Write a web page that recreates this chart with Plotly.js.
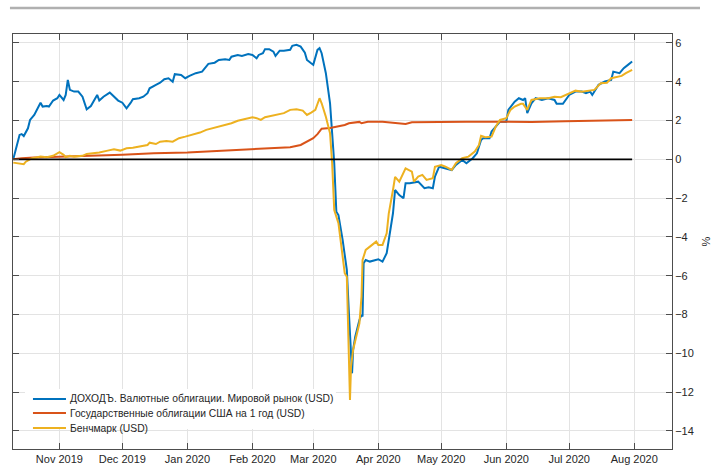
<!DOCTYPE html>
<html>
<head>
<meta charset="utf-8">
<script src="https://cdn.plot.ly/plotly-3.0.1.min.js"></script>
<style>html,body{margin:0;padding:0;background:#fff;}#chart{width:712px;height:467px;}</style>
</head>
<body>
<div id="chart"></div>
<script>
const seriesNames = [
  "ДОХОДЪ. Валютные облигации. Мировой рынок (USD)",
  "Государственные облигации США на 1 год (USD)",
  "Бенчмарк (USD)"
];

const fundDates = ["2019-10-10","2019-10-13","2019-10-14","2019-10-15","2019-10-17","2019-10-18","2019-10-20","2019-10-22","2019-10-23","2019-10-24","2019-10-26","2019-10-27","2019-10-29","2019-10-31","2019-11-01","2019-11-03","2019-11-04","2019-11-05","2019-11-06","2019-11-08","2019-11-10","2019-11-12","2019-11-14","2019-11-16","2019-11-18","2019-11-19","2019-11-20","2019-11-22","2019-11-25","2019-11-27","2019-11-29","2019-12-01","2019-12-03","2019-12-05","2019-12-06","2019-12-09","2019-12-11","2019-12-13","2019-12-14","2019-12-17","2019-12-19","2019-12-21","2019-12-23","2019-12-25","2019-12-26","2019-12-29","2019-12-31","2020-01-02","2020-01-05","2020-01-08","2020-01-10","2020-01-11","2020-01-14","2020-01-16","2020-01-19","2020-01-21","2020-01-22","2020-01-25","2020-01-27","2020-01-30","2020-02-01","2020-02-03","2020-02-04","2020-02-06","2020-02-07","2020-02-09","2020-02-11","2020-02-12","2020-02-14","2020-02-16","2020-02-19","2020-02-20","2020-02-22","2020-02-24","2020-02-26","2020-02-27","2020-02-29","2020-03-01","2020-03-03","2020-03-04","2020-03-05","2020-03-07","2020-03-09","2020-03-10","2020-03-11","2020-03-12","2020-03-13","2020-03-15","2020-03-17","2020-03-18","2020-03-19","2020-03-19 12:00","2020-03-20","2020-03-21","2020-03-23","2020-03-24","2020-03-24 12:00","2020-03-25","2020-03-26","2020-03-28","2020-04-01","2020-04-03","2020-04-05","2020-04-06","2020-04-08","2020-04-09","2020-04-11","2020-04-13","2020-04-14","2020-04-16","2020-04-18","2020-04-20","2020-04-23","2020-04-25","2020-04-27","2020-04-28","2020-04-30","2020-05-03","2020-05-06","2020-05-08","2020-05-11","2020-05-13","2020-05-16","2020-05-18","2020-05-20","2020-05-21","2020-05-24","2020-05-25","2020-05-28","2020-05-29","2020-06-01","2020-06-02","2020-06-05","2020-06-07","2020-06-09","2020-06-10","2020-06-11","2020-06-13","2020-06-15","2020-06-18","2020-06-21","2020-06-24","2020-06-25","2020-06-28","2020-07-01","2020-07-04","2020-07-07","2020-07-09","2020-07-11","2020-07-12","2020-07-15","2020-07-18","2020-07-21","2020-07-22","2020-07-25","2020-07-27","2020-07-29","2020-07-31"];
const fundValues = [0,1.26,1.30,1.20,1.60,2.03,2.29,2.72,2.92,2.72,2.75,2.72,3.03,3.15,3.32,3.06,3.32,4.09,3.58,3.49,3.49,3.23,2.58,2.75,3.15,3.32,3.03,3.23,3.44,3.23,3.03,2.92,2.63,2.92,3.10,3.15,3.23,3.41,3.66,3.84,3.95,4.13,4.18,4.00,4.39,4.35,4.18,4.30,4.44,4.52,4.78,4.92,4.98,5.12,5.16,5.12,5.29,5.38,5.33,5.43,5.38,5.21,5.38,5.47,5.68,5.68,5.55,5.33,5.60,5.60,5.65,5.85,5.90,5.81,5.50,5.12,4.95,4.87,5.64,5.73,5.47,4.44,2.89,1.52,-0.20,-2.70,-2.87,-4.15,-5.70,-7.93,-10.0,-11.03,-9.82,-9.14,-8.28,-8.02,-8.10,-5.36,-5.19,-5.27,-5.15,-5.27,-4.84,-4.15,-2.78,-1.58,-1.84,-2.01,-1.23,-1.23,-1.20,-1.15,-1.49,-1.44,-1.49,-0.89,-0.38,-0.46,-0.55,-0.29,-0.03,-0.20,0.06,0.31,1.00,1.09,1.09,1.43,1.86,1.94,1.94,2.55,2.97,3.15,3.06,3.15,2.38,2.89,3.15,3.06,3.15,3.06,2.86,2.86,3.32,3.49,3.49,3.41,3.49,3.32,3.84,4.01,4.09,4.52,4.44,4.70,4.87,5.04];

const ustDates = ["2019-10-10","2019-10-14","2019-10-20","2019-11-01","2019-11-12","2019-12-01","2019-12-16","2020-01-01","2020-01-15","2020-01-31","2020-02-11","2020-02-19","2020-02-24","2020-02-27","2020-02-29","2020-03-01","2020-03-03","2020-03-05","2020-03-09","2020-03-13","2020-03-16","2020-03-18","2020-03-20","2020-03-23","2020-03-24","2020-03-27","2020-04-03","2020-04-09","2020-04-14","2020-04-17","2020-04-27","2020-05-13","2020-05-29","2020-06-13","2020-06-29","2020-07-15","2020-07-31"];
const ustValues = [0,0.06,0.09,0.12,0.18,0.23,0.31,0.35,0.43,0.52,0.55,0.62,0.74,0.91,1.00,1.09,1.30,1.58,1.62,1.69,1.77,1.86,1.89,1.93,1.86,1.94,1.94,1.86,1.82,1.91,1.93,1.94,1.94,1.93,1.96,1.98,2.03];

const benchDates = ["2019-10-10","2019-10-12","2019-10-15","2019-10-16","2019-10-19","2019-10-21","2019-10-23","2019-10-26","2019-10-29","2019-11-01","2019-11-03","2019-11-04","2019-11-06","2019-11-08","2019-11-12","2019-11-14","2019-11-17","2019-11-20","2019-11-24","2019-11-27","2019-11-30","2019-12-03","2019-12-06","2019-12-09","2019-12-13","2019-12-14","2019-12-17","2019-12-19","2019-12-22","2019-12-25","2019-12-28","2019-12-31","2020-01-03","2020-01-07","2020-01-10","2020-01-13","2020-01-16","2020-01-19","2020-01-22","2020-01-25","2020-01-28","2020-02-01","2020-02-03","2020-02-05","2020-02-07","2020-02-10","2020-02-13","2020-02-16","2020-02-19","2020-02-22","2020-02-25","2020-02-27","2020-02-29","2020-03-02","2020-03-04","2020-03-05","2020-03-07","2020-03-09","2020-03-10","2020-03-11","2020-03-13","2020-03-16","2020-03-17","2020-03-17 12:00","2020-03-18","2020-03-18 12:00","2020-03-19","2020-03-20","2020-03-23","2020-03-24","2020-03-24 12:00","2020-03-26","2020-03-28","2020-03-31","2020-04-01","2020-04-03","2020-04-05","2020-04-06","2020-04-08","2020-04-09","2020-04-11","2020-04-14","2020-04-17","2020-04-18","2020-04-20","2020-04-22","2020-04-24","2020-04-27","2020-04-28","2020-05-01","2020-05-03","2020-05-06","2020-05-08","2020-05-11","2020-05-14","2020-05-17","2020-05-19","2020-05-20","2020-05-22","2020-05-25","2020-05-27","2020-05-29","2020-06-01","2020-06-03","2020-06-05","2020-06-08","2020-06-09","2020-06-11","2020-06-13","2020-06-17","2020-06-21","2020-06-24","2020-06-27","2020-07-01","2020-07-04","2020-07-07","2020-07-10","2020-07-13","2020-07-16","2020-07-19","2020-07-21","2020-07-24","2020-07-26","2020-07-28","2020-07-31"];
const benchValues = [-0.17,-0.20,-0.25,-0.12,0.06,0.09,0.14,0.11,0.18,0.37,0.23,0.11,0.18,0.14,0.18,0.28,0.31,0.35,0.45,0.52,0.45,0.57,0.60,0.65,0.74,0.86,0.79,0.91,0.95,0.91,1.09,1.17,1.26,1.38,1.52,1.60,1.69,1.77,1.86,1.99,2.07,2.17,2.12,2.03,2.17,2.24,2.29,2.38,2.55,2.58,2.51,2.29,2.41,2.55,3.15,2.89,2.20,1.35,-0.20,-2.61,-3.29,-5.87,-6.05,-8.45,-10.69,-12.40,-10.69,-9.82,-8.45,-7.08,-5.19,-4.67,-4.50,-4.24,-4.41,-4.41,-3.81,-2.78,-1.58,-0.90,-1.15,-0.46,-0.63,-1.15,-0.89,-0.80,-1.06,-0.97,-0.38,-0.29,-0.38,-0.55,-0.20,0.06,0.14,0.40,0.74,1.21,1.14,1.17,1.69,2.03,2.12,2.55,2.72,2.86,2.86,2.55,3.06,3.15,3.15,3.23,3.20,3.41,3.54,3.49,3.54,3.58,3.92,3.95,4.18,4.26,4.30,4.44,4.61];

const zeroDates = ["2019-10-10","2020-07-31"];
const zeroValues = [0,0];

const yTicks = [6,4,2,0,-2,-4,-6,-8,-10,-12,-14];
const colors = ["#0072BD","#D95319","#EDB120"];

const traces = [
  {x: fundDates, y: fundValues, name: seriesNames[0], type: "scatter", mode: "lines", line: {color: colors[0], width: 2}},
  {x: ustDates, y: ustValues, name: seriesNames[1], type: "scatter", mode: "lines", line: {color: colors[1], width: 2}},
  {x: benchDates, y: benchValues, name: seriesNames[2], type: "scatter", mode: "lines", line: {color: colors[2], width: 2}},
  {x: zeroDates, y: zeroValues, showlegend: false, type: "scatter", mode: "lines", line: {color: "#000000", width: 1.6}, hoverinfo: "skip"}
];

const font = {family: "Liberation Sans, Arial, sans-serif", size: 11, color: "#262626"};
const legendFont = {family: "Liberation Sans, Arial, sans-serif", size: 10.3, color: "#262626"};

// custom compact legend (paper coordinates)
const legRowsY = [0.1205, 0.0867, 0.0506];
const shapes = [
  {type: "line", xref: "paper", yref: "paper", x0: -0.0046, x1: 1.0425, y0: 1.0627, y1: 1.0627, line: {color: "#b0b0b0", width: 2.5}},
  {type: "rect", xref: "paper", yref: "paper", x0: 0.0182, x1: 0.49, y0: 0.0482, y1: 0.1446, line: {width: 0}, fillcolor: "#ffffff", layer: "above"}
];
const annotations = [];
seriesNames.forEach((nm, i) => {
  shapes.push({type: "line", xref: "paper", yref: "paper", x0: 0.0303, x1: 0.0804, y0: legRowsY[i], y1: legRowsY[i], line: {color: colors[i], width: 2}, layer: "above"});
  annotations.push({xref: "paper", yref: "paper", x: 0.0835, y: legRowsY[i], xanchor: "left", yanchor: "middle", text: nm, showarrow: false, font: legendFont});
});

const layout = {
  width: 712, height: 467,
  margin: {l: 13, r: 40, t: 34, b: 18, pad: 0},
  paper_bgcolor: "#ffffff", plot_bgcolor: "#ffffff",
  font: font,
  showlegend: false,
  xaxis: {
    type: "date",
    range: ["2019-10-09 21:00", "2020-08-19"],
    tick0: "2019-11-01", dtick: "M1", tickformat: "%b %Y",
    ticks: "inside", ticklen: 6, tickcolor: "#4d4d4d",
    showline: true, linecolor: "#4d4d4d", linewidth: 1, mirror: "ticks",
    showgrid: true, gridcolor: "#e3e3e3", gridwidth: 1,
    zeroline: false, tickfont: font
  },
  yaxis: {
    side: "right",
    range: [-14.93, 6.46],
    tickvals: yTicks,
    ticks: "inside", ticklen: 6, tickcolor: "#4d4d4d",
    showline: true, linecolor: "#4d4d4d", linewidth: 1, mirror: "ticks",
    showgrid: true, gridcolor: "#e3e3e3", gridwidth: 1,
    zeroline: false, tickfont: font,
    title: {text: "%", font: font, standoff: 14}
  },
  shapes: shapes,
  annotations: annotations
};

Plotly.newPlot("chart", traces, layout, {displayModeBar: false, staticPlot: true});
</script>
</body>
</html>
